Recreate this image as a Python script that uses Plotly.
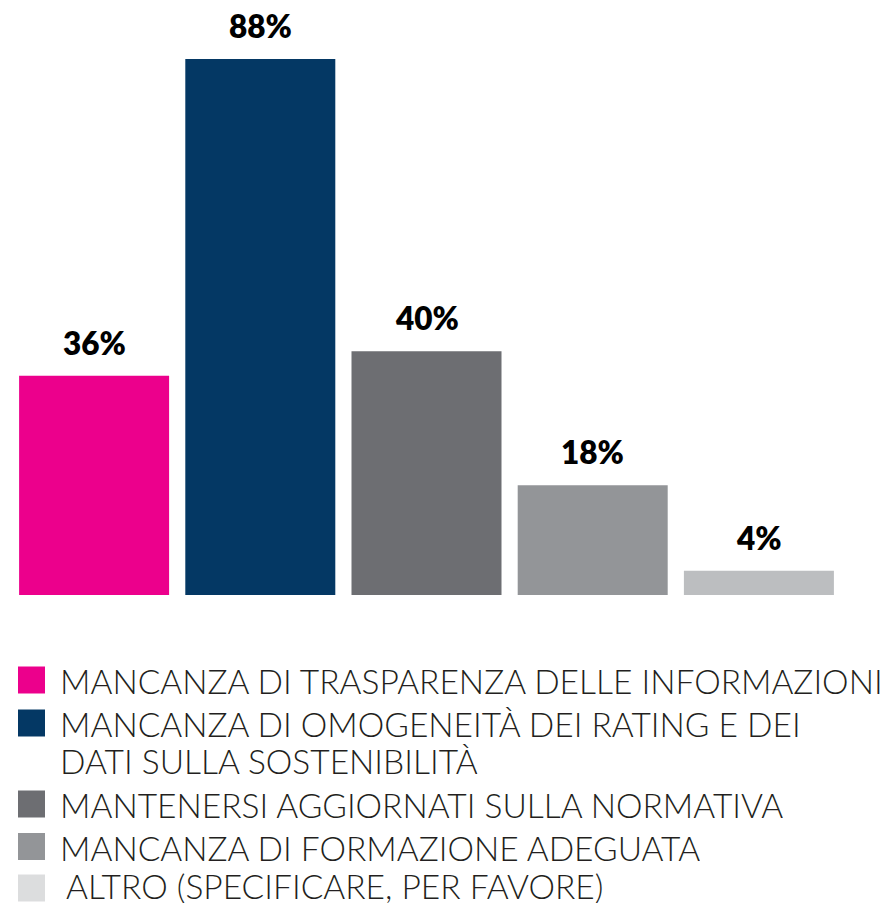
import plotly.graph_objects as go

categories = [
    "MANCANZA DI TRASPARENZA DELLE INFORMAZIONI",
    "MANCANZA DI OMOGENEITÀ DEI RATING E DEI<br>DATI SULLA SOSTENIBILITÀ",
    "MANTENERSI AGGIORNATI SULLA NORMATIVA",
    "MANCANZA DI FORMAZIONE ADEGUATA",
    "ALTRO (SPECIFICARE, PER FAVORE)",
]
values = [36, 88, 40, 18, 4]
value_labels = ["36%", "88%", "40%", "18%", "4%"]
bar_colors = ["#EC008C", "#043864", "#6D6E72", "#939598", "#BCBEC0"]
legend_colors = ["#EC008C", "#043864", "#6D6E72", "#939598", "#DCDDDE"]

OFF = 8  # page body margin
W, H = 888 - OFF, 906 - OFF
# plot area in page pixels: left 11, right 842, top 10, bottom 595
ML = 11 - OFF
MT = 10 - OFF
MR = W - (842 - OFF)
MB = H - (595 - OFF)
PW, PH = W - ML - MR, H - MT - MB
YMAX = PH / (536 / 88)


def pxx(x):
    return (x - 11) / PW


def pxy(y):
    return (595 - y) / PH


xs = list(range(len(categories)))
fig = go.Figure()
fig.add_trace(go.Bar(
    x=xs, y=values, marker=dict(color=bar_colors, line=dict(width=0)),
    hoverinfo="skip", showlegend=False,
))

for x, v, t in zip(xs, values, value_labels):
    fig.add_annotation(x=x, y=v, text=t, showarrow=False, yanchor="bottom",
                       yshift=12, font=dict(family="Lato", size=31.5, color="#000000", weight=800))

# custom legend
row_centers = [680, 723, 804, 846.5, 888]
text_dy = [1, 1, 1, 1, -2]
text_x = [58, 58, 58, 58, 64]
LINE_STEP = 37
LF = dict(family="Lato", size=33.5, color="#231F20", weight=300)
for i, (lab, col) in enumerate(zip(categories, legend_colors)):
    cy = row_centers[i]
    fig.add_shape(type="rect", xref="paper", yref="paper",
                  x0=pxx(18), x1=pxx(45), y0=pxy(cy - 13.5), y1=pxy(cy + 13.5),
                  fillcolor=col, line=dict(width=0))
    for j, line in enumerate(lab.split("<br>")):
        fig.add_annotation(xref="paper", yref="paper", x=pxx(text_x[i]),
                           y=pxy(cy + text_dy[i] + j * LINE_STEP),
                           text=line, showarrow=False, xanchor="left", yanchor="middle",
                           align="left", height=34, valign="middle", font=LF)

fig.update_layout(
    width=W, height=H,
    margin=dict(l=ML, r=MR, t=MT, b=MB),
    paper_bgcolor="white", plot_bgcolor="white",
    bargap=1 - 150 / (PW / 5),
    xaxis=dict(visible=False, range=[-0.5, 4.5]),
    yaxis=dict(visible=False, range=[0, YMAX]),
    showlegend=False,
)

fig.write_html("out.html")
